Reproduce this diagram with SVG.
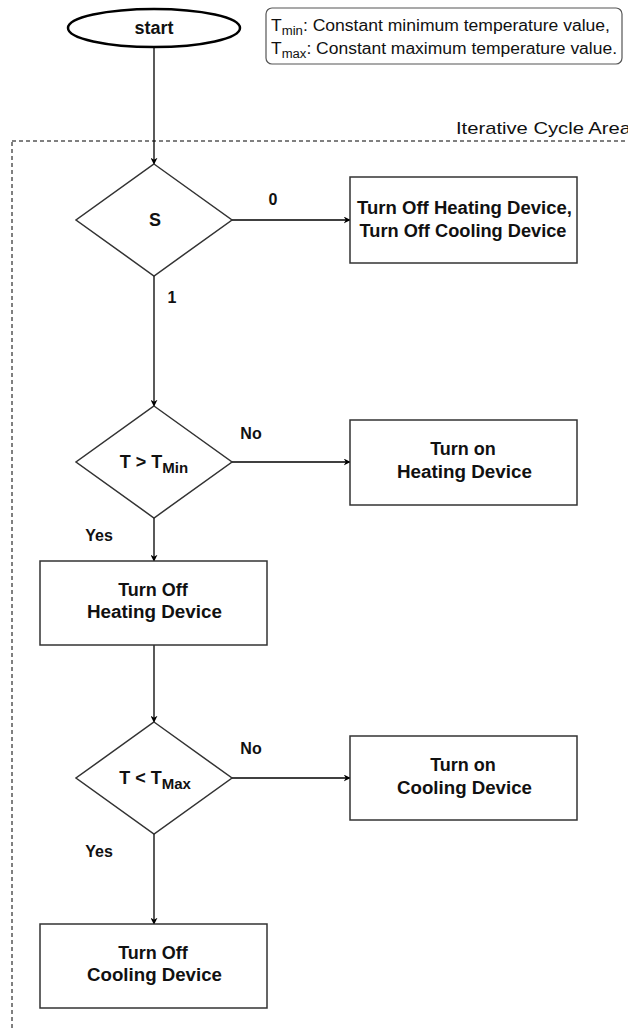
<svg xmlns="http://www.w3.org/2000/svg" width="628" height="1031" viewBox="0 0 628 1031">
  <style>
    .shape { fill: #ffffff; stroke: #333333; stroke-width: 1.5; }
    .lbl { font-family: "Liberation Sans", Arial, sans-serif; font-size: 18px; font-weight: bold; fill: #111111; text-anchor: middle; }
    .elbl { font-family: "Liberation Sans", Arial, sans-serif; font-size: 16px; font-weight: bold; fill: #111111; text-anchor: middle; }
    .note { font-family: "Liberation Sans", Arial, sans-serif; font-size: 16px; fill: #111111; }
    .edge { fill: none; stroke: #000000; stroke-width: 1.3; }
  </style>
  <defs>
    <marker id="arrow" viewBox="0 0 10 10" refX="9" refY="5" markerWidth="7" markerHeight="7" orient="auto" markerUnits="userSpaceOnUse">
      <path d="M0,0 L10,5 L0,10 L3,5 z" fill="#000000"/>
    </marker>
  </defs>

  <!-- loop region -->
  <g id="cycle-area">
    <rect x="12" y="141" width="640" height="920" fill="none" stroke="#000000" stroke-width="1" stroke-dasharray="4,3"/>
    <text x="456" y="134" font-family="Liberation Sans, Arial, sans-serif" font-size="17" fill="#111111" textLength="175" lengthAdjust="spacingAndGlyphs">Iterative Cycle Area</text>
  </g>

  <!-- legend -->
  <g id="legend">
    <rect x="266" y="8" width="356" height="56" rx="6" fill="#ffffff" stroke="#555555" stroke-width="1.2"/>
    <text class="note" x="271" y="31" textLength="339" lengthAdjust="spacingAndGlyphs">T<tspan font-size="12" dy="4">min</tspan><tspan dy="-4">: Constant minimum temperature value,</tspan></text>
    <text class="note" x="271" y="54" textLength="346" lengthAdjust="spacingAndGlyphs">T<tspan font-size="12" dy="4">max</tspan><tspan dy="-4">: Constant maximum temperature value.</tspan></text>
  </g>

  <!-- connectors -->
  <g id="connectors">
    <path class="edge" d="M154,48 L154,164" marker-end="url(#arrow)"/>
    <path class="edge" d="M232,220 L350,220" marker-end="url(#arrow)"/>
    <path class="edge" d="M154,276 L154,406" marker-end="url(#arrow)"/>
    <path class="edge" d="M232,462 L350,462" marker-end="url(#arrow)"/>
    <path class="edge" d="M154,518 L154,561" marker-end="url(#arrow)"/>
    <path class="edge" d="M154,645 L154,722" marker-end="url(#arrow)"/>
    <path class="edge" d="M232,778 L350,778" marker-end="url(#arrow)"/>
    <path class="edge" d="M154,834 L154,924" marker-end="url(#arrow)"/>
    <text class="elbl" x="273" y="205">0</text>
    <text class="elbl" x="172" y="303">1</text>
    <text class="elbl" x="251" y="439">No</text>
    <text class="elbl" x="99" y="541">Yes</text>
    <text class="elbl" x="251" y="754">No</text>
    <text class="elbl" x="99" y="857">Yes</text>
  </g>

  <g id="start">
    <ellipse cx="154" cy="28" rx="86" ry="19" fill="#ffffff" stroke="#000000" stroke-width="2.5"/>
    <text class="lbl" x="154" y="34">start</text>
  </g>

  <g id="check-s">
    <polygon class="shape" points="154,164 232,220 154,276 76,220"/>
    <text class="lbl" x="155" y="226">S</text>
  </g>

  <g id="all-off">
    <rect class="shape" x="350" y="177" width="227" height="86"/>
    <text class="lbl" x="464.5" y="214" textLength="215" lengthAdjust="spacingAndGlyphs">Turn Off Heating Device,</text>
    <text class="lbl" x="463" y="237" textLength="207" lengthAdjust="spacingAndGlyphs">Turn Off Cooling Device</text>
  </g>

  <g id="check-min">
    <polygon class="shape" points="154,406 232,462 154,518 76,462"/>
    <text class="lbl" x="154" y="468">T &gt; T<tspan font-size="15" dy="5">Min</tspan></text>
  </g>

  <g id="heat-on">
    <rect class="shape" x="350" y="420" width="227" height="85"/>
    <text class="lbl" x="463" y="455">Turn on</text>
    <text class="lbl" x="464.5" y="478" textLength="135" lengthAdjust="spacingAndGlyphs">Heating Device</text>
  </g>

  <g id="heat-off">
    <rect class="shape" x="40" y="561" width="227" height="84"/>
    <text class="lbl" x="153" y="596">Turn Off</text>
    <text class="lbl" x="154.5" y="618" textLength="135" lengthAdjust="spacingAndGlyphs">Heating Device</text>
  </g>

  <g id="check-max">
    <polygon class="shape" points="154,722 232,778 154,834 76,778"/>
    <text class="lbl" x="155" y="784">T &lt; T<tspan font-size="15" dy="5">Max</tspan></text>
  </g>

  <g id="cool-on">
    <rect class="shape" x="350" y="736" width="227" height="84"/>
    <text class="lbl" x="463" y="771">Turn on</text>
    <text class="lbl" x="464.5" y="794" textLength="135" lengthAdjust="spacingAndGlyphs">Cooling Device</text>
  </g>

  <g id="cool-off">
    <rect class="shape" x="40" y="924" width="227" height="84"/>
    <text class="lbl" x="153" y="959">Turn Off</text>
    <text class="lbl" x="154.5" y="981" textLength="135" lengthAdjust="spacingAndGlyphs">Cooling Device</text>
  </g>
</svg>
